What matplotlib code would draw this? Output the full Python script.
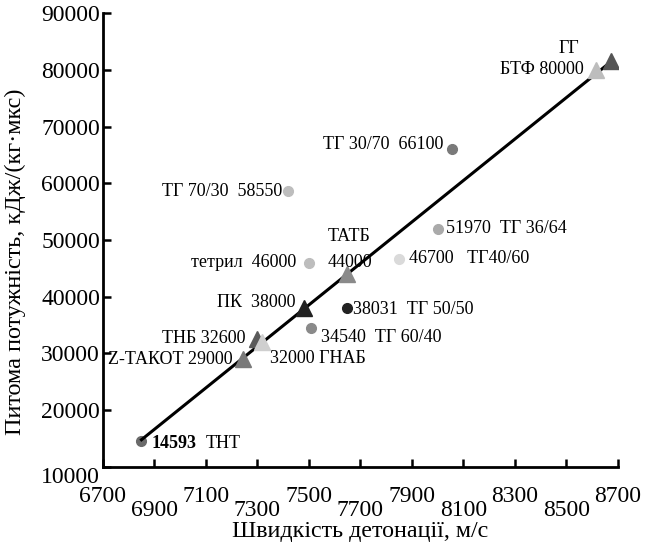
import numpy as np
import matplotlib
matplotlib.use("Agg")
from matplotlib import pyplot as plt

plt.rcParams['font.family'] = ['Liberation Serif', 'DejaVu Serif']

# точки: назва, швидкість детонації (м/с), питома потужність
names = ['ТНТ', 'Z-ТАКОТ', 'ТНБ', 'ГНАБ', 'ПК', 'тетрил', 'ТАТБ', 'ТГ 50/50',
         'ТГ 60/40', 'ТГ40/60', 'ТГ 36/64', 'ТГ 30/70', 'ТГ 70/30', 'БТФ', 'ГГ']
speed = [6850, 7245, 7300, 7320, 7480, 7500, 7650, 7650,
         7510, 7850, 8000, 8055, 7420, 8615, 8675]
power = [14593, 29000, 32600, 32000, 38000, 46000, 44000, 38031,
         34540, 46700, 51970, 66100, 58550, 80000, 81600]
markers = ['o', '^', '^', '^', '^', 'o', '^', 'o',
           'o', 'o', 'o', 'o', 'o', '^', '^']
colors = ['#6a6a6a', '#7a7a7a', '#5a5a5a', '#cfcfcf', '#222222', '#bdbdbd', '#8a8a8a', '#222222',
          '#8a8a8a', '#dadada', '#aaaaaa', '#7a7a7a', '#bdbdbd', '#bdbdbd', '#555555']

# підписи: текст, зсув (px), вирівнювання
labels = ['14593', 'Z-ТАКОТ 29000', 'ТНБ 32600', '32000 ГНАБ', 'ПК  38000', 'тетрил  46000',
          'ТАТБ\n44000', '38031  ТГ 50/50', '34540  ТГ 60/40', '46700   ТГ40/60',
          '51970  ТГ 36/64', 'ТГ 30/70  66100', 'ТГ 70/30  58550', 'БТФ 80000', 'ГГ']
offs = [(10, -3), (-11, 0), (-12, 0), (8, -16), (-8, 6), (-13, 0),
        (2, 25), (6, -2), (10, -10), (10, 0),
        (8, 0), (-8, 4), (-6, 0), (-12, 0), (-32, 12)]
has = ['left', 'right', 'right', 'left', 'right', 'right',
       'center', 'left', 'left', 'left',
       'left', 'right', 'right', 'right', 'right']

# лінія тренду
trend_x = [6850, 8670]
trend_y = [14800, 81300]

fig = plt.figure(figsize=(6.51, 5.43), dpi=100)
ax = fig.add_axes([0.158, 0.14, 0.791, 0.836])

ax.plot(trend_x, trend_y, color='black', lw=2.2, zorder=2)
k = 0.72
for i in range(len(names)):
    ms = 7 if markers[i] == 'o' else 11
    ax.plot(speed[i], power[i], marker=markers[i], color=colors[i], ms=ms,
            ls='none', zorder=3 if markers[i] == '^' else 1)
    ax.annotate(labels[i], (speed[i], power[i]),
                xytext=(offs[i][0] * k, offs[i][1] * k), textcoords='offset points',
                ha=has[i], va='center', fontsize=13,
                fontweight='bold' if i == 0 else 'normal', linespacing=1.7)
# ТНТ окремо
ax.annotate('ТНТ', (speed[0], power[0]), xytext=(64 * k, -3 * k),
            textcoords='offset points', ha='left', va='center', fontsize=13)

ax.set_xlim(6700, 8700)
ax.set_ylim(10000, 90000)
ax.set_xticks(np.arange(6700, 8701, 200))
ax.set_yticks(np.arange(10000, 90001, 10000))
ax.tick_params(direction='in', length=6, width=1.8, labelsize=17)
ax.tick_params(axis='y', pad=2)
for i, t in enumerate(ax.xaxis.get_major_ticks()):
    t.set_pad(14 if i % 2 == 0 else 24)
ax.get_yticklabels()[0].set_va('top')
for s in ['top', 'right']:
    ax.spines[s].set_visible(False)
for s in ['left', 'bottom']:
    ax.spines[s].set_linewidth(2)

ax.set_xlabel('Швидкість детонації, м/с', fontsize=17.3, labelpad=0)
ax.set_ylabel('Питома потужність, кДж/(кг·мкс)', fontsize=17.5)
ax.yaxis.set_label_coords(-0.15, 0.452)

fig.savefig('out.png', dpi=100)
